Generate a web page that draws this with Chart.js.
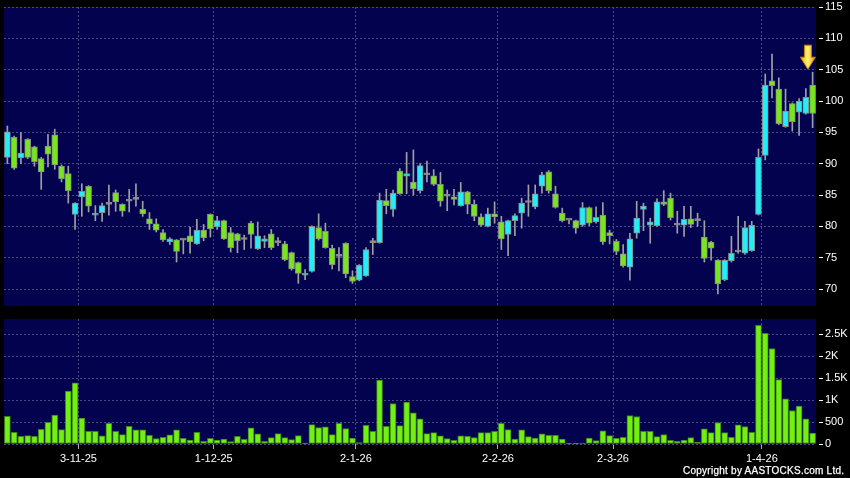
<!DOCTYPE html>
<html>
<head>
<meta charset="utf-8">
<script src="https://cdn.jsdelivr.net/npm/chart.js@4.4.1/dist/chart.umd.min.js"></script>
<style>
  body{margin:0;background:#000;width:850px;height:478px;overflow:hidden;position:relative;}
  #priceChart{position:absolute;left:0;top:0;}
  #volChart{position:absolute;left:0;top:310px;}
  #copy{position:absolute;left:683px;top:465px;color:#fff;font:10px "Liberation Sans",Arial,sans-serif;letter-spacing:0.25px;-webkit-text-stroke:0.25px #fff;white-space:nowrap;}
</style>
</head>
<body>
<canvas id="priceChart" width="850" height="310"></canvas>
<canvas id="volChart" width="850" height="168"></canvas>
<div id="copy">Copyright by AASTOCKS.com Ltd.</div>
<script>
// daily candles, 16-10-25 .. 14-4-26
var opens  = [91.0,94.2,90.9,93.9,92.7,90.8,92.8,94.6,89.6,88.4, 81.9,84.7,86.4,81.8,82.2,83.5,85.4,83.5,84.0,84.3,
              82.7,81.2,80.4,79.0,77.5,77.85,77.8,78.5,77.2,79.4, 81.9,79.9,80.9,79.0,78.8,77.9,80.5,76.4,77.6,78.8,
              77.4,77.2,75.8,74.2,72.2,72.8,79.8,79.2,76.5,75.2, 77.3,72.0,71.4,72.1,77.4,77.4,84.1,82.7,88.8,88.0,
              87.05,85.7,88.2,88.05,86.7,84.8,84.7,83.3,85.5,83.5, 81.5,80.0,82.0,80.7,78.7,80.9,82.1,83.8,83.1,86.4,
              88.7,85.2,82.1,81.0,80.9,80.2,83.0,80.7,81.8,79.0, 77.6,75.6,73.5,78.9,82.7,80.2,80.1,83.9,84.5,80.2,
              80.2,81.2,80.9,78.3,77.5,74.6,71.5,74.5,75.9,75.7, 76.1,81.9,91.3,103.2,101.9,95.9,99.6,98.2,98.0,102.55];
var highs  = [96.0,94.4,95.0,94.0,92.8,91.0,94.7,95.5,89.8,89.6, 83.8,86.8,86.5,83.3,83.7,86.6,85.8,83.6,85.9,86.8,
              84.0,82.2,81.2,79.5,78.2,77.9,77.9,79.9,81.1,80.3, 82.0,81.6,81.0,79.8,78.9,78.6,80.8,80.7,78.5,79.5,
              78.2,77.6,75.9,74.3,73.1,80.1,82.0,80.5,77.0,76.6, 77.4,72.9,73.9,76.6,78.1,85.3,85.9,85.8,89.2,91.8,
              92.2,90.0,90.4,89.05,88.6,85.8,85.9,87.0,85.6,84.2, 82.0,82.9,83.9,81.6,81.0,82.0,84.5,86.6,86.6,88.6,
              88.9,86.4,82.9,81.0,81.0,83.8,83.1,83.1,83.8,79.4, 77.9,77.1,78.9,84.0,83.7,81.3,84.4,85.7,85.3,82.4,
              83.2,83.2,82.1,80.9,77.6,74.7,74.7,78.4,81.6,80.8, 80.8,92.35,104.3,107.5,103.7,101.9,99.7,100.4,102.0,104.6];
var lows   = [90.0,89.1,90.0,90.8,89.6,85.9,89.5,89.1,87.1,83.7, 79.5,81.6,82.3,80.9,80.8,81.8,82.4,81.6,82.3,83.2,
              81.6,79.5,79.1,77.6,77.1,74.3,75.6,75.7,77.1,77.7, 78.3,79.5,77.9,75.9,75.8,76.3,76.5,76.3,76.6,76.3,
              76.9,74.5,73.0,70.9,71.5,72.7,77.8,76.5,73.2,72.9, 71.8,70.9,71.3,72.0,75.5,77.3,82.0,81.6,85.1,85.2,
              85.0,85.3,87.1,86.5,83.2,82.5,83.4,83.2,82.0,80.9, 80.0,79.9,80.5,76.3,75.3,78.5,79.7,81.6,82.8,85.3,
              85.3,82.9,80.7,80.4,78.9,80.0,80.1,80.5,77.1,77.2, 75.5,73.5,71.4,78.1,79.3,77.3,80.0,83.3,81.0,78.9,
              78.4,79.8,80.0,74.3,74.6,69.2,71.3,74.3,75.7,75.5, 76.0,81.8,90.6,100.5,96.2,95.8,95.2,94.5,97.9,95.75];
var closes = [95.1,89.3,91.7,91.0,90.3,88.7,91.5,89.8,87.6,85.7, 83.7,85.6,83.2,82.1,83.3,83.5,83.9,82.4,84.0,84.3,
              82.0,80.4,79.4,77.85,78.0,76.0,77.8,77.5,79.4,78.2, 79.6,80.9,78.0,76.6,77.7,77.9,78.7,78.5,78.0,76.6,
              77.4,74.7,73.2,72.5,72.5,80.0,78.0,76.6,73.9,75.2, 72.4,71.2,73.8,76.3,77.4,84.2,83.3,85.3,85.2,88.4,
              86.0,89.7,88.2,86.7,84.0,84.8,84.3,85.5,83.5,81.6, 80.2,82.0,81.5,78.0,80.9,81.7,83.7,83.8,85.2,88.2,
              85.7,83.0,80.9,81.0,79.7,83.0,80.5,81.45,77.5,78.5, 76.0,73.7,78.0,81.3,83.25,80.7,83.9,83.5,81.4,80.2,
              81.1,80.3,80.9,74.9,76.5,70.8,74.6,75.7,75.9,79.8, 80.2,91.0,102.55,102.45,96.4,98.4,96.7,100.0,100.6,98.0];
var volumes = [632,267,175,190,175,335,495,655,328,1204, 1394,587,290,290,183,472,290,213,404,320,
               320,198,122,152,206,320,130,91,267,61, 130,91,114,53,175,107,366,229,61,145,
               236,145,99,190,15,442,373,389,213,472, 350,137,30,427,290,1455,404,922,419,953,
               709,572,236,259,183,122,84,183,175,145, 259,259,290,472,328,114,320,168,137,229,
               198,198,114,8,15,23,137,76,297,190, 130,152,648,625,290,290,168,213,84,61,
               91,145,38,343,259,488,259,152,434,396, 267,2697,2515,2172,1463,1029,762,861,572,251];

// month starts: tick sits between the last day of a month and the first of the next
var dateTickPos    = [10.5, 30.5, 51.5, 72.5, 89.5, 111.5];
var dateTickLabels = ['3-11-25', '1-12-25', '2-1-26', '2-2-26', '2-3-26', '1-4-26'];
var priceTicks = [70, 75, 80, 85, 90, 95, 100, 105, 110, 115];
var volTicks   = [0, 500, 1000, 1500, 2000, 2500];
var volTickLabels = ['0', '500', '1K', '1.5K', '2K', '2.5K'];

Chart.defaults.font.family = '"Liberation Sans", Arial, sans-serif';
Chart.defaults.font.size = 11;
Chart.defaults.color = '#ffffff';

var NAVY = '#02024e';
var GRID = '#4a4a86';
var UP = '#22eef8', DOWN = '#77e61c', FLAT = '#9a9a9a';

var n = closes.length;
var wickData = [], bodyData = [], bodyColors = [], volData = [];
for (var i = 0; i < n; i++) {
  wickData.push({x: i, y: [lows[i], highs[i]]});
  bodyData.push({x: i, y: [Math.min(opens[i], closes[i]), Math.max(opens[i], closes[i])]});
  bodyColors.push(closes[i] > opens[i] ? UP : (closes[i] < opens[i] ? DOWN : FLAT));
  volData.push({x: i, y: volumes[i]});
}

var plotBg = {
  id: 'plotBg',
  beforeDraw: function(chart) {
    var a = chart.chartArea, ctx = chart.ctx;
    ctx.save();
    ctx.fillStyle = NAVY;
    ctx.fillRect(a.left, a.top, a.right - a.left, a.bottom - a.top);
    ctx.restore();
  }
};

var lastArrow = {
  id: 'lastArrow',
  afterDatasetsDraw: function(chart) {
    var xs = chart.scales.x, ys = chart.scales.y, ctx = chart.ctx;
    var cx = xs.getPixelForValue(n - 1.7);
    var tip = ys.getPixelForValue(highs[n - 1]) - 3;
    ctx.save();
    var g = ctx.createLinearGradient(cx - 7, 0, cx + 7, 0);
    g.addColorStop(0, '#f5b400');
    g.addColorStop(0.5, '#fff27a');
    g.addColorStop(1, '#e69a00');
    ctx.fillStyle = g;
    ctx.strokeStyle = '#c98200';
    ctx.lineWidth = 1;
    ctx.beginPath();
    ctx.moveTo(cx - 3.5, tip - 24);
    ctx.lineTo(cx + 3.5, tip - 24);
    ctx.lineTo(cx + 3.5, tip - 12);
    ctx.lineTo(cx + 7.5, tip - 12);
    ctx.lineTo(cx, tip);
    ctx.lineTo(cx - 7.5, tip - 12);
    ctx.lineTo(cx - 3.5, tip - 12);
    ctx.closePath();
    ctx.fill();
    ctx.stroke();
    ctx.restore();
  }
};

function xAxis(showLabels) {
  return {
    type: 'linear',
    min: -0.5,
    max: n - 0.5,
    offset: false,
    afterBuildTicks: function(s) { s.ticks = dateTickPos.map(function(v) { return {value: v}; }); },
    afterFit: function(s) { s.height = showLabels ? 34 : 0; s.paddingLeft = 0; s.paddingRight = 0; },
    grid: {
      color: GRID, offset: false, drawTicks: showLabels, tickLength: 5,
      tickColor: '#b0b0b0', tickBorderDash: []
    },
    border: {display: false, dash: [2, 2]},
    ticks: {
      display: showLabels, padding: 3, maxRotation: 0, autoSkip: false,
      callback: function(v, idx) { return dateTickLabels[idx]; }
    }
  };
}

function yAxis(min, max, tickVals, labelFn) {
  return {
    type: 'linear',
    position: 'right',
    min: min,
    max: max,
    beginAtZero: false,
    afterBuildTicks: function(s) { s.ticks = tickVals.map(function(v) { return {value: v}; }); },
    afterFit: function(s) { s.width = 34; s.paddingTop = 0; s.paddingBottom = 0; },
    grid: {
      color: GRID, drawTicks: true, tickLength: 7,
      tickColor: '#ffffff', tickBorderDash: [0, 3, 4, 40]
    },
    border: {display: false, dash: [2, 2]},
    ticks: { padding: 2, autoSkip: false, callback: labelFn }
  };
}

new Chart(document.getElementById('priceChart'), {
  type: 'bar',
  data: {
    datasets: [
      {data: wickData, backgroundColor: '#a0a0a0', barThickness: 1, grouped: false, order: 2},
      {data: bodyData, backgroundColor: bodyColors, borderColor: '#8a8a8a', borderWidth: 1,
       borderSkipped: false, barThickness: 6, minBarLength: 2, grouped: false, order: 1}
    ]
  },
  options: {
    responsive: false,
    devicePixelRatio: 1,
    animation: false,
    events: [],
    layout: {padding: {left: 4, top: 7, right: 0, bottom: 4}},
    plugins: {legend: {display: false}, tooltip: {enabled: false}},
    scales: {
      x: xAxis(false),
      y: yAxis(115 - 299.3 / 6.273, 115, priceTicks, function(v) { return String(v); })
    }
  },
  plugins: [plotBg, lastArrow]
});

new Chart(document.getElementById('volChart'), {
  type: 'bar',
  data: {
    datasets: [
      {data: volData, backgroundColor: '#72f012', borderColor: '#3f7f1e', borderWidth: 1,
       borderSkipped: false, barThickness: 6}
    ]
  },
  options: {
    responsive: false,
    devicePixelRatio: 1,
    animation: false,
    events: [],
    layout: {padding: {left: 4, top: 9, right: 0, bottom: 0}},
    plugins: {legend: {display: false}, tooltip: {enabled: false}},
    scales: {
      x: xAxis(true),
      y: yAxis(0, 2843, volTicks, function(v, idx) { return volTickLabels[idx]; })
    }
  },
  plugins: [plotBg]
});
</script>
</body>
</html>
